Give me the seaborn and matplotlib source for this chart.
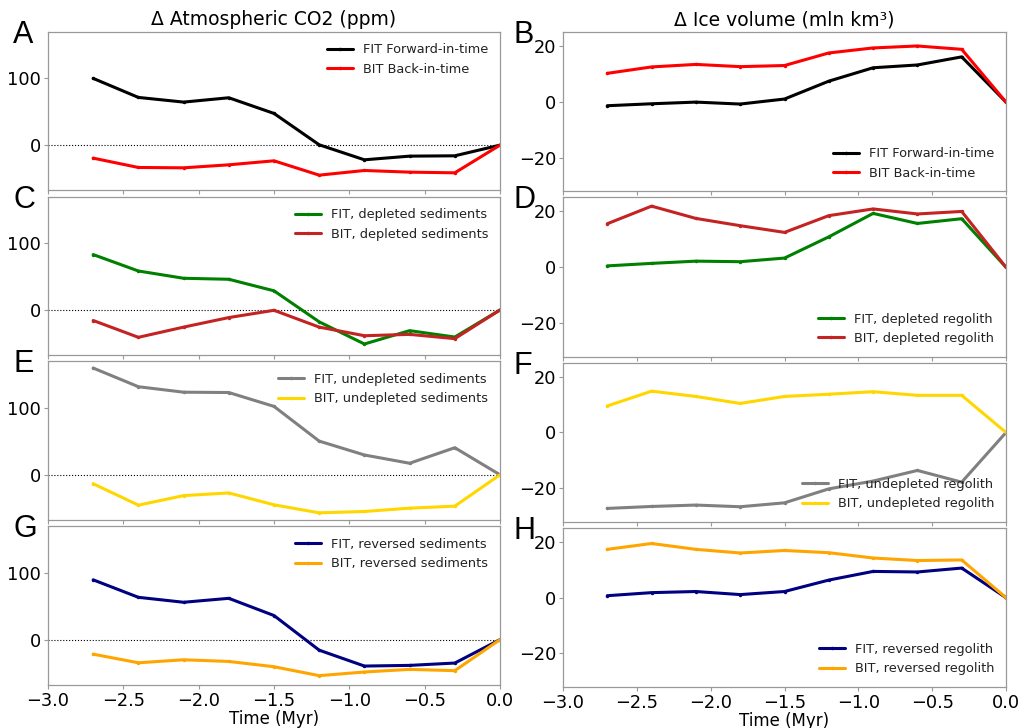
import matplotlib
matplotlib.use('Agg')
import matplotlib.pyplot as plt
import seaborn as sns
import numpy as np
import pandas as pd

# time axis (Myr)
time = [-2.7, -2.4, -2.1, -1.8, -1.5, -1.2, -0.9, -0.6, -0.3, 0.0]

# Delta atmospheric CO2 (ppm)
co2_fit = [100, 71.5, 64.5, 71, 47.5, 0.5, -22, -16.5, -16, 0]
co2_bit = [-19.5, -33.5, -34, -29.5, -23.5, -45, -38, -40.5, -41.5, 0]
co2_fit_depl = [83, 58.4, 47.5, 46, 28.7, -17.8, -51, -31, -40.6, 0]
co2_bit_depl = [-15.8, -41, -25.7, -11.4, -0.5, -25.7, -38.6, -36.6, -43, 0]
co2_fit_undepl = [160, 132, 123.8, 123.3, 102.5, 50.5, 29.7, 17.3, 40.6, 0]
co2_bit_undepl = [-13.4, -45.5, -31.2, -27.2, -45, -57, -55, -50, -47, 0]
co2_fit_rev = [89.6, 63.4, 56, 61.9, 36.1, -15.8, -39.6, -38.6, -35.1, 0]
co2_bit_rev = [-21.8, -34.7, -30.2, -32.7, -40.6, -54, -48.5, -44.6, -46.5, 0]

# Delta ice volume (mln km3)
ice_fit = [-1.3, -0.6, 0, -0.7, 1.1, 7.5, 12.3, 13.3, 16.2, 0]
ice_bit = [10.3, 12.6, 13.5, 12.7, 13.1, 17.6, 19.4, 20.1, 18.9, 0]
ice_fit_depl = [0.5, 1.4, 2.2, 2.0, 3.3, 10.9, 19.3, 15.7, 17.4, 0]
ice_bit_depl = [15.6, 21.9, 17.5, 14.9, 12.5, 18.5, 20.9, 19.1, 20.0, 0]
ice_fit_undepl = [-27.2, -26.5, -26.0, -26.6, -25.2, -20.2, -17.4, -13.6, -17.8, 0]
ice_bit_undepl = [9.5, 14.8, 12.9, 10.4, 12.9, 13.7, 14.6, 13.3, 13.3, 0]
ice_fit_rev = [0.7, 1.8, 2.2, 1.1, 2.2, 6.3, 9.4, 9.2, 10.6, 0]
ice_bit_rev = [17.3, 19.4, 17.3, 16.0, 16.9, 16.1, 14.2, 13.3, 13.5, 0]

left_panels = [
    ('A', co2_fit, co2_bit, 'FIT Forward-in-time', 'BIT Back-in-time', 'black', 'red'),
    ('C', co2_fit_depl, co2_bit_depl, 'FIT, depleted sediments', 'BIT, depleted sediments', 'green', '#c42323'),
    ('E', co2_fit_undepl, co2_bit_undepl, 'FIT, undepleted sediments', 'BIT, undepleted sediments', 'gray', 'gold'),
    ('G', co2_fit_rev, co2_bit_rev, 'FIT, reversed sediments', 'BIT, reversed sediments', 'navy', 'orange'),
]
right_panels = [
    ('B', ice_fit, ice_bit, 'FIT Forward-in-time', 'BIT Back-in-time', 'black', 'red'),
    ('D', ice_fit_depl, ice_bit_depl, 'FIT, depleted regolith', 'BIT, depleted regolith', 'green', '#c42323'),
    ('F', ice_fit_undepl, ice_bit_undepl, 'FIT, undepleted regolith', 'BIT, undepleted regolith', 'gray', 'gold'),
    ('H', ice_fit_rev, ice_bit_rev, 'FIT, reversed regolith', 'BIT, reversed regolith', 'navy', 'orange'),
]

sns.set_style('white')
plt.rcParams['font.family'] = ['DejaVu Sans']
plt.rcParams['text.color'] = 'black'
plt.rcParams['axes.labelcolor'] = 'black'
plt.rcParams['axes.titlecolor'] = 'black'
plt.rcParams['axes.edgecolor'] = '#999999'
plt.rcParams['xtick.color'] = '#999999'
plt.rcParams['ytick.color'] = '#999999'
plt.rcParams['xtick.labelcolor'] = 'black'
plt.rcParams['ytick.labelcolor'] = 'black'

fig = plt.figure(figsize=(10.28, 7.28), dpi=100)
gs_l = fig.add_gridspec(4, 1, left=48 / 1028, right=500 / 1028,
                        top=1 - 31.7 / 728, bottom=1 - 685 / 728, hspace=0.038)
gs_r = fig.add_gridspec(4, 1, left=563 / 1028, right=1006 / 1028,
                        top=1 - 32.3 / 728, bottom=1 - 687 / 728, hspace=0.038)


def draw_panel(ax, panel, ylim, yticks, legend_loc, zero_line, letter_dx):
    letter, fit, bit, fit_lab, bit_lab, c_fit, c_bit = panel
    df = pd.DataFrame({'time': time, 'fit': fit, 'bit': bit})
    if zero_line:
        ax.axhline(0, color='black', lw=0.8, ls=':', zorder=1)
    sns.lineplot(data=df, x='time', y='fit', ax=ax, color=c_fit, lw=2.2,
                 marker='.', markersize=5, markeredgewidth=0, label=fit_lab)
    sns.lineplot(data=df, x='time', y='bit', ax=ax, color=c_bit, lw=2.2,
                 marker='.', markersize=5, markeredgewidth=0, label=bit_lab)
    ax.set_xlim(-3.0, 0.0)
    ax.set_ylim(*ylim)
    ax.set_yticks(yticks)
    ax.set_xticks(np.arange(-3.0, 0.01, 0.5))
    ax.set_xlabel('')
    ax.set_ylabel('')
    ax.tick_params(axis='both', labelsize=12.8, length=3, width=0.8, pad=2,
                   direction='out', bottom=True, left=True)
    for s in ax.spines.values():
        s.set_linewidth(0.9)
    leg = ax.legend(loc=legend_loc, frameon=False, fontsize=9.3)
    for t in leg.get_texts():
        t.set_color('#222222')
    pos = ax.get_position()
    fig.text(pos.x0 - letter_dx / 1028, pos.y1 + 12 / 728, letter, fontsize=22,
             family=['Liberation Sans', 'DejaVu Sans'], va='top', ha='left')


left_axes = []
for i, panel in enumerate(left_panels):
    ax = fig.add_subplot(gs_l[i, 0])
    draw_panel(ax, panel, (-68, 170), [0, 100], 'upper right', True, 35)
    left_axes.append(ax)

right_axes = []
for i, panel in enumerate(right_panels):
    ax = fig.add_subplot(gs_r[i, 0])
    draw_panel(ax, panel, (-32, 25), [-20, 0, 20], 'lower right', False, 50)
    right_axes.append(ax)

for axs in (left_axes, right_axes):
    for ax in axs[:-1]:
        ax.tick_params(labelbottom=False)
    axs[-1].set_xlabel('Time (Myr)', fontsize=12, labelpad=0)

left_axes[0].set_title('Δ Atmospheric CO2 (ppm)', fontsize=13.5, pad=5)
right_axes[0].set_title('Δ Ice volume (mln km³)', fontsize=13.5, pad=5)

fig.savefig('out.png', dpi=100)
